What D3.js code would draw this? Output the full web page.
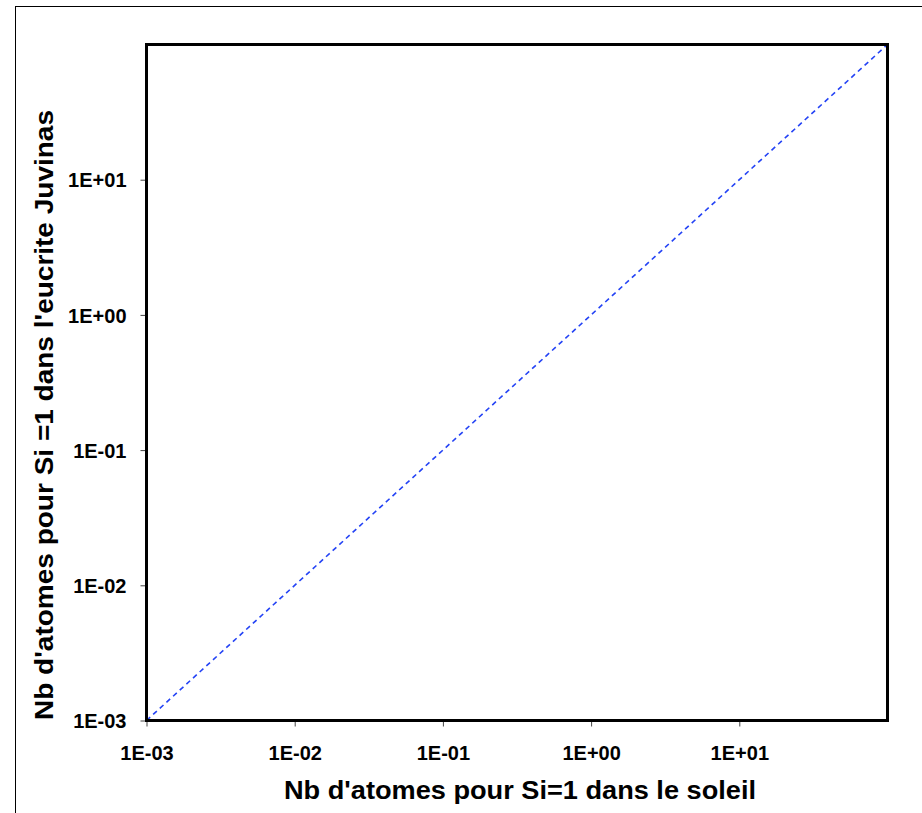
<!DOCTYPE html>
<html>
<head>
<meta charset="utf-8">
<script src="https://cdn.jsdelivr.net/npm/d3@7"></script>
<style>
body { margin: 0; background: #fff; }
svg text { font-family: "Liberation Sans", Arial, sans-serif; font-weight: bold; fill: #000; }
</style>
</head>
<body>
<svg class="chart" width="922" height="813"></svg>
<script>
// values
var xDomain = [1e-3, 1e2];
var yDomain = [1e-3, 1e2];
var xTicks = [1e-3, 1e-2, 1e-1, 1e0, 1e1];
var yTicks = [1e-3, 1e-2, 1e-1, 1e0, 1e1];
var tickLabels = ["1E-03", "1E-02", "1E-01", "1E+00", "1E+01"];
var diagX = [1e-3, 1e2];
var diagY = [1e-3, 1e2];
var xTitle = "Nb d'atomes pour Si=1 dans le soleil";
var yTitle = "Nb d'atomes pour Si =1 dans l'eucrite Juvinas";

var svg = d3.select("svg.chart");
var plotL = 146.5, plotR = 887.5, plotT = 44.5, plotB = 720.5;

var x = d3.scaleLog().domain(xDomain).range([plotL, plotR]);
var y = d3.scaleLog().domain(yDomain).range([plotB, plotT]);

// outer chart area border
svg.append("rect")
    .attr("x", 15.5).attr("y", 6.5)
    .attr("width", 940).attr("height", 840)
    .attr("fill", "none").attr("stroke", "#000").attr("stroke-width", 1);

var xAxis = svg.append("g")
    .attr("transform", "translate(0," + plotB + ")")
    .call(d3.axisBottom(x).tickValues(xTicks)
        .tickFormat(function(d, i) { return tickLabels[i]; })
        .tickSize(6).tickPadding(19));
var yAxis = svg.append("g")
    .attr("transform", "translate(" + plotL + ",0)")
    .call(d3.axisLeft(y).tickValues(yTicks)
        .tickFormat(function(d, i) { return tickLabels[i]; })
        .tickSize(6).tickPadding(14));

svg.selectAll(".domain").remove();
svg.selectAll(".tick line").attr("stroke", "#444").attr("stroke-width", 1);
svg.selectAll(".tick text")
    .attr("font-size", 20)
    .attr("font-family", "Liberation Sans, Arial, sans-serif")
    .attr("font-weight", "bold")
    .attr("fill", "#000");
yAxis.selectAll(".tick text").attr("dy", "0.36em");

// diagonal
var line = d3.line()
    .x(function(d) { return x(d[0]); })
    .y(function(d) { return y(d[1]); });
svg.append("path")
    .datum(d3.zip(diagX, diagY))
    .attr("d", line)
    .attr("fill", "none")
    .attr("stroke", "#2443f5")
    .attr("stroke-width", 1.6)
    .attr("stroke-dasharray", "5,4");

// plot frame
svg.append("rect")
    .attr("x", plotL).attr("y", plotT)
    .attr("width", plotR - plotL).attr("height", plotB - plotT)
    .attr("fill", "none").attr("stroke", "#000").attr("stroke-width", 3);

svg.append("text")
    .attr("x", 284)
    .attr("y", 799)
    .attr("font-size", 25)
    .attr("textLength", 472)
    .attr("lengthAdjust", "spacingAndGlyphs")
    .text(xTitle);

svg.append("text")
    .attr("transform", "translate(53,720) rotate(-90)")
    .attr("font-size", 25)
    .attr("textLength", 610)
    .attr("lengthAdjust", "spacingAndGlyphs")
    .text(yTitle);
</script>
</body>
</html>
